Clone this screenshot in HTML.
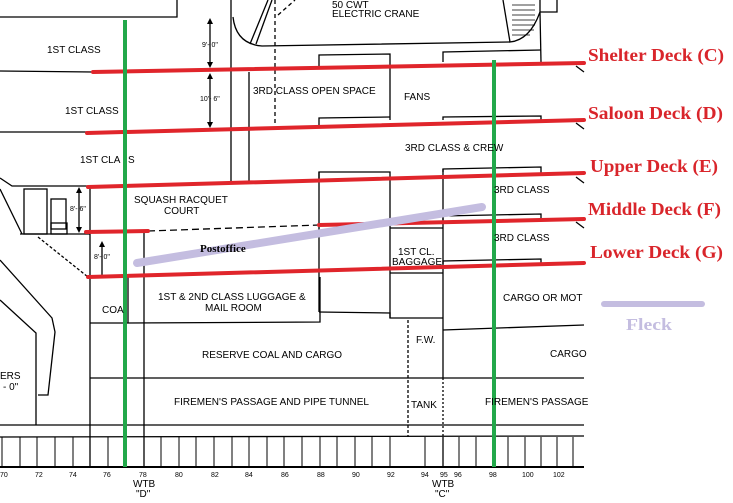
<!DOCTYPE html>
<html><head><meta charset="utf-8"><style>
html,body{margin:0;padding:0;background:#fff;}
svg{display:block;}
.t{font-family:"Liberation Sans",Arial,sans-serif;font-size:10px;fill:#000;}
.s{font-family:"Liberation Sans",Arial,sans-serif;font-size:7px;fill:#000;}
.r{font-family:"Liberation Serif",serif;font-weight:bold;font-size:18px;fill:#d9252b;}
</style></head><body>
<svg width="733" height="503" viewBox="0 0 733 503" xmlns="http://www.w3.org/2000/svg">
<g stroke="#000" stroke-width="1.3" fill="none">
<polyline points="0,17 177,17 177,0"/>
<line x1="231" y1="0" x2="231" y2="183"/>
<line x1="249" y1="72" x2="249" y2="183"/>
<path d="M233,17 Q236,44 262,46 L510,42"/>
<line x1="250" y1="44" x2="268" y2="0"/><line x1="256" y1="44" x2="272" y2="0"/>
<line x1="275" y1="0" x2="275" y2="125" stroke-dasharray="4,3"/>
<line x1="278" y1="15" x2="295" y2="0" stroke-dasharray="4,3"/>
<path d="M503,0 L510,42 Q530,40 540,12 L540,0"/>
<g stroke-width="0.8"><line x1="512" y1="5" x2="535" y2="5"/><line x1="512" y1="10" x2="535" y2="10"/><line x1="512" y1="15" x2="535" y2="15"/><line x1="512" y1="20" x2="535" y2="20"/><line x1="512" y1="25" x2="535" y2="25"/><line x1="512" y1="30" x2="534" y2="30"/><line x1="512" y1="35" x2="530" y2="35"/></g>
<polyline points="540,12 557,12 557,0"/>
<line x1="540" y1="12" x2="541" y2="62"/>
<polyline points="443,62 443,52 541,50"/>
<line x1="0" y1="71" x2="93" y2="72"/>
<line x1="0" y1="132" x2="87" y2="132"/>
<polyline points="0,178 12,186 88,186"/>
<polyline points="319,68 319,55 390,54 390,120"/>
<polyline points="319,125 319,118 390,117"/>
<polyline points="319,180 319,172 390,172 390,228"/>
<polyline points="443,120 443,117 541,116 541,120"/>
<polyline points="443,172 443,169 541,167 541,173"/>
<polyline points="443,220 443,216 541,214 541,219"/>
<polyline points="443,264 443,261 541,259 541,263"/>
<line x1="443" y1="169" x2="443" y2="378"/>
<line x1="443" y1="378" x2="443" y2="437" stroke-dasharray="2,2"/>
<line x1="319" y1="172" x2="319" y2="312"/>
<line x1="390" y1="228" x2="390" y2="318"/>
<polyline points="390,228 443,228"/>
<line x1="390" y1="273" x2="443" y2="273"/>
<polyline points="319,312 390,313 390,318 443,318"/>
<line x1="408" y1="320" x2="408" y2="437" stroke-dasharray="3,2"/>
<line x1="443" y1="330" x2="584" y2="325"/>
<polyline points="128,323 320,322 320,277"/>
<line x1="128" y1="323" x2="128" y2="277"/>
<rect x="24" y="189" width="23" height="45"/>
<rect x="51" y="199" width="15" height="30"/><rect x="51" y="223" width="16" height="11"/>
<line x1="0" y1="189" x2="22" y2="234"/>
<line x1="20" y1="234" x2="90" y2="234"/>
<line x1="90" y1="186" x2="90" y2="467"/>
<line x1="144" y1="232" x2="144" y2="467"/>
<line x1="148" y1="231" x2="319" y2="225" stroke-dasharray="7,4"/>
<line x1="38" y1="237" x2="88" y2="277" stroke-dasharray="3,2"/>
<polyline points="0,260 52,318 55,332 48,395 38,395"/>
<polyline points="0,300 36,333 36,425"/>
<line x1="90" y1="378" x2="584" y2="378"/>
<line x1="90" y1="323" x2="128" y2="323"/>
<line x1="0" y1="425" x2="584" y2="425"/>
<line x1="0" y1="437" x2="584" y2="436"/>
<line x1="0" y1="467" x2="584" y2="467" stroke-width="2"/>
<line x1="443" y1="437" x2="443" y2="467"/>
<line x1="576" y1="66" x2="584" y2="72"/><line x1="576" y1="123" x2="584" y2="129"/><line x1="576" y1="177" x2="584" y2="183"/><line x1="576" y1="222" x2="584" y2="228"/>
<line x1="210" y1="20" x2="210" y2="65"/><line x1="210" y1="75" x2="210" y2="126"/><line x1="79" y1="189" x2="79" y2="231"/><line x1="102" y1="243" x2="102" y2="275"/>
</g>
<g fill="#000">
<path d="M207,24 L210,18 L213,24Z"/><path d="M207,62 L210,68 L213,62Z"/><path d="M207,79 L210,73 L213,79Z"/><path d="M207,122 L210,128 L213,122Z"/>
<path d="M76,193 L79,187 L82,193Z"/><path d="M76,227 L79,233 L82,227Z"/><path d="M99,247 L102,241 L105,247Z"/>
</g>
<g stroke="#000" stroke-width="1">
<line x1="2" y1="437" x2="2" y2="467"/><line x1="20" y1="437" x2="20" y2="467"/><line x1="37" y1="437" x2="37" y2="467"/><line x1="55" y1="437" x2="55" y2="467"/><line x1="73" y1="437" x2="73" y2="467"/><line x1="108" y1="437" x2="108" y2="467"/><line x1="161" y1="437" x2="161" y2="467"/><line x1="179" y1="437" x2="179" y2="467"/><line x1="196" y1="437" x2="196" y2="467"/><line x1="214" y1="437" x2="214" y2="467"/><line x1="232" y1="437" x2="232" y2="467"/><line x1="249" y1="437" x2="249" y2="467"/><line x1="267" y1="437" x2="267" y2="467"/><line x1="284" y1="437" x2="284" y2="467"/><line x1="302" y1="437" x2="302" y2="467"/><line x1="320" y1="437" x2="320" y2="467"/><line x1="337" y1="437" x2="337" y2="467"/><line x1="355" y1="437" x2="355" y2="467"/><line x1="372" y1="437" x2="372" y2="467"/><line x1="390" y1="437" x2="390" y2="467"/><line x1="425" y1="437" x2="425" y2="467"/><line x1="459" y1="437" x2="459" y2="467"/><line x1="476" y1="437" x2="476" y2="467"/><line x1="508" y1="437" x2="508" y2="467"/><line x1="525" y1="437" x2="525" y2="467"/><line x1="541" y1="437" x2="541" y2="467"/><line x1="557" y1="437" x2="557" y2="467"/><line x1="573" y1="437" x2="573" y2="467"/>
</g>
<g stroke="#e0252b" stroke-width="4" stroke-linecap="round">
<line x1="93" y1="72" x2="584" y2="63"/>
<line x1="87" y1="133" x2="584" y2="120"/>
<line x1="88" y1="187" x2="584" y2="173"/>
<line x1="86" y1="232" x2="148" y2="231"/>
<line x1="319" y1="225" x2="584" y2="219"/>
<line x1="88" y1="277" x2="584" y2="263"/>
</g>
<line x1="137" y1="263" x2="482" y2="207" stroke="#c4bde0" stroke-width="8" stroke-linecap="round"/>
<line x1="604" y1="304" x2="702" y2="304" stroke="#c4bde0" stroke-width="6" stroke-linecap="round"/>
<g stroke="#22a84a" stroke-width="4"><line x1="125" y1="20" x2="125" y2="467"/><line x1="494" y1="60" x2="494" y2="467"/></g>
<text class="t" x="47" y="53">1ST CLASS</text>
<text class="t" x="65" y="114">1ST CLASS</text>
<text class="t" x="80" y="163">1ST CLA</text><text class="t" x="128" y="163">S</text>
<text class="t" x="134" y="203">SQUASH RACQUET</text>
<text class="t" x="164" y="214">COURT</text>
<text class="t" x="253" y="94">3RD CLASS OPEN SPACE</text>
<text class="t" x="404" y="100">FANS</text>
<text class="t" x="405" y="151">3RD CLASS &amp; CREW</text>
<text class="t" x="494" y="193">3RD CLASS</text>
<text class="t" x="494" y="241">3RD CLASS</text>
<text class="t" x="398" y="255">1ST CL.</text>
<text class="t" x="392" y="265">BAGGAGE</text>
<text class="t" x="158" y="300">1ST &amp; 2ND CLASS LUGGAGE &amp;</text>
<text class="t" x="205" y="311">MAIL ROOM</text>
<text class="t" x="102" y="313">COA</text>
<text class="t" x="503" y="301">CARGO OR MOT</text>
<text class="t" x="550" y="357">CARGO</text>
<text class="t" x="202" y="358">RESERVE COAL AND CARGO</text>
<text class="t" x="416" y="343">F.W.</text>
<text class="t" x="174" y="405">FIREMEN'S PASSAGE AND PIPE TUNNEL</text>
<text class="t" x="411" y="408">TANK</text>
<text class="t" x="485" y="405">FIREMEN'S PASSAGE</text>
<text class="t" x="0" y="379">ERS</text><text class="t" x="3" y="390">- 0"</text>
<text class="t" x="332" y="8">50 CWT</text>
<text class="t" x="332" y="17">ELECTRIC CRANE</text>
<text class="s" x="202" y="47">9'- 0"</text>
<text class="s" x="200" y="101">10'- 6"</text>
<text class="s" x="70" y="211">8'- 6"</text>
<text class="s" x="94" y="259">8'- 0"</text>
<text x="200" y="252" font-family="Liberation Serif,serif" font-size="11" font-weight="bold">Postoffice</text>
<g class="s"><text x="0" y="477">70</text><text x="35" y="477">72</text><text x="69" y="477">74</text><text x="103" y="477">76</text><text x="139" y="477">78</text><text x="175" y="477">80</text><text x="211" y="477">82</text><text x="245" y="477">84</text><text x="281" y="477">86</text><text x="317" y="477">88</text><text x="352" y="477">90</text><text x="387" y="477">92</text><text x="421" y="477">94</text><text x="440" y="477">95</text><text x="454" y="477">96</text><text x="489" y="477">98</text><text x="522" y="477">100</text><text x="553" y="477">102</text></g>
<text class="t" x="133" y="487">WTB</text><text class="t" x="136" y="497">"D"</text>
<text class="t" x="432" y="487">WTB</text><text class="t" x="435" y="497">"C"</text>
<text class="r" x="588" y="61" textLength="136" lengthAdjust="spacingAndGlyphs">Shelter Deck (C)</text>
<text class="r" x="588" y="119" textLength="135" lengthAdjust="spacingAndGlyphs">Saloon Deck (D)</text>
<text class="r" x="590" y="172" textLength="128" lengthAdjust="spacingAndGlyphs">Upper Deck (E)</text>
<text class="r" x="588" y="215" textLength="133" lengthAdjust="spacingAndGlyphs">Middle Deck (F)</text>
<text class="r" x="590" y="258" textLength="133" lengthAdjust="spacingAndGlyphs">Lower Deck (G)</text>
<text x="626" y="330" font-family="Liberation Serif,serif" font-weight="bold" font-size="17" fill="#c4bde0" textLength="46" lengthAdjust="spacingAndGlyphs">Fleck</text>
</svg>
</body></html>
